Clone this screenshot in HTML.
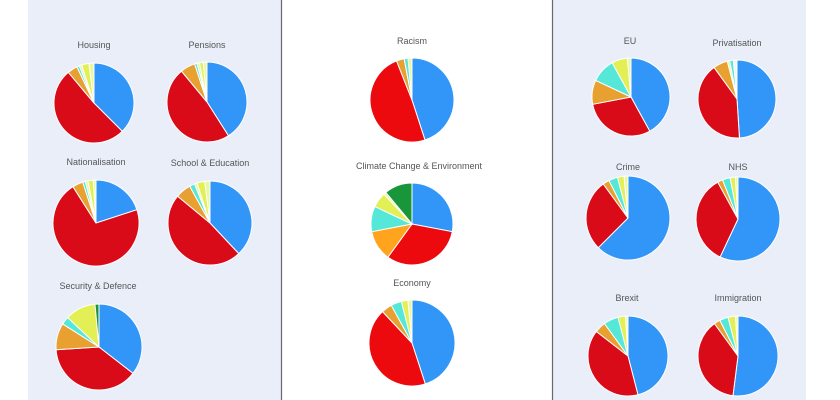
<!DOCTYPE html>
<html><head><meta charset="utf-8">
<style>
html,body{margin:0;padding:0;background:#fff;}
svg{display:block;}
text{font-family:"Liberation Sans",sans-serif;font-size:9px;fill:#555;text-anchor:middle;}
</style></head>
<body>
<svg id="s" width="840" height="400" viewBox="0 0 840 400" xmlns="http://www.w3.org/2000/svg">
<rect x="28" y="0" width="254" height="400" fill="#e9eef9"/>
<line x1="281.5" y1="0" x2="281.5" y2="400" stroke="#6a6a6a" stroke-width="1.2"/>
<rect x="553" y="0" width="253" height="400" fill="#e9eef9"/>
<line x1="552.5" y1="0" x2="552.5" y2="400" stroke="#6a6a6a" stroke-width="1.2"/>
<text x="94" y="48">Housing</text>
<text x="207" y="48">Pensions</text>
<text x="96" y="165">Nationalisation</text>
<text x="210" y="166">School &amp; Education</text>
<text x="98" y="289">Security &amp; Defence</text>
<text x="412" y="44">Racism</text>
<text x="419" y="169">Climate Change &amp; Environment</text>
<text x="412" y="286">Economy</text>
<text x="630" y="44">EU</text>
<text x="737" y="46">Privatisation</text>
<text x="628" y="170">Crime</text>
<text x="738" y="170">NHS</text>
<text x="627" y="301">Brexit</text>
<text x="738" y="301">Immigration</text>
<g id="pies"></g>
</svg>
<script>
var B="#3196f8",R="#d90b19",R2="#ec0a0e",O="#e8a030",O2="#ffa41c",C="#55e8d8",Y="#e2f055",G="#1a963a",L="#e8f8a0",W="#f4f4f4";
var pies=[
[94,103,40,[[0.375,B],[0.889,R],[0.93,O],[0.94,C],[0.95,L],[0.98,Y],[1,L]]],
[207,102,40,[[0.41,B],[0.89,R],[0.95,O],[0.96,C],[0.97,L],[0.985,Y],[1,L]]],
[96,223,43,[[0.2,B],[0.91,R],[0.95,O],[0.96,C],[0.97,L],[0.99,Y],[1,L]]],
[210,223,42,[[0.38,B],[0.86,R],[0.92,O],[0.94,C],[0.95,L],[0.98,Y],[1,L]]],
[99,347,43,[[0.355,B],[0.74,R],[0.84,O],[0.87,C],[0.985,Y],[1,G]]],
[412,100,42,[[0.45,B],[0.94,R2],[0.97,O],[0.985,C],[1,L]]],
[412,224,41,[[0.28,B],[0.6,R2],[0.72,O2],[0.82,C],[0.88,Y],[0.89,L],[1,G]]],
[412,343,43,[[0.45,B],[0.88,R2],[0.92,O],[0.96,C],[0.985,Y],[1,L]]],
[631,97,39,[[0.42,B],[0.72,R],[0.82,O],[0.92,C],[0.985,Y],[1,L]]],
[737,99,39,[[0.49,B],[0.9,R],[0.96,O],[0.97,L],[0.985,C],[1,W]]],
[628,218,42,[[0.625,B],[0.9,R],[0.925,O],[0.96,C],[0.985,Y],[1,L]]],
[738,219,42,[[0.57,B],[0.92,R],[0.94,O],[0.97,C],[0.99,Y],[1,L]]],
[628,356,40,[[0.46,B],[0.855,R],[0.9,O],[0.96,C],[0.99,Y],[1,L]]],
[738,356,40,[[0.52,B],[0.9,R],[0.925,O],[0.96,C],[0.99,Y],[1,L]]]
];
var g=document.getElementById("pies"),h="";
function pt(cx,cy,r,f){var a=f*2*Math.PI;return (cx+r*Math.sin(a)).toFixed(2)+","+(cy-r*Math.cos(a)).toFixed(2);}
pies.forEach(function(p){var cx=p[0],cy=p[1],r=p[2],s=0;
p[3].forEach(function(q){var e=q[0];var large=(e-s)>0.5?1:0;
h+='<path d="M'+cx+','+cy+' L'+pt(cx,cy,r,s)+' A'+r+','+r+' 0 '+large+' 1 '+pt(cx,cy,r,e)+' Z" fill="'+q[1]+'" stroke="#fff" stroke-width="1"/>';s=e;});});
g.innerHTML=h;
</script>
</body></html>
